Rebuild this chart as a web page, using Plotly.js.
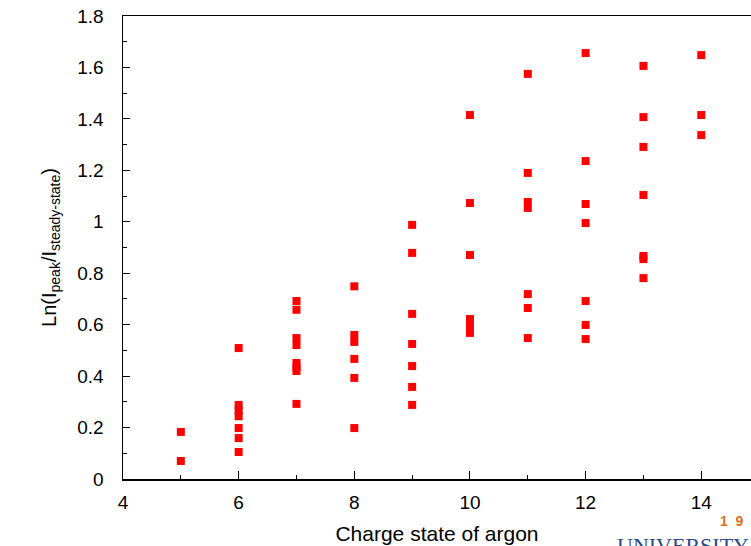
<!DOCTYPE html>
<html>
<head>
<meta charset="utf-8">
<script src="https://cdn.plot.ly/plotly-3.0.1.min.js"></script>
<style>html,body{margin:0;padding:0;background:#fff;}#chart{width:751px;height:546px;}</style>
</head>
<body>
<div id="chart"></div>
<script>
// Charge states and measured Ln(I_peak / I_steady-state) values
const chargeStates = [5, 6, 7, 8, 9, 10, 11, 12, 13, 14];
const q5  = [0.183, 0.070];
const q6  = [0.509, 0.288, 0.266, 0.244, 0.198, 0.159, 0.105];
const q7  = [0.692, 0.658, 0.548, 0.521, 0.451, 0.435, 0.420, 0.292];
const q8  = [0.749, 0.560, 0.533, 0.467, 0.393, 0.198];
const q9  = [0.988, 0.879, 0.642, 0.525, 0.439, 0.358, 0.288];
const q10 = [1.415, 1.073, 0.871, 0.622, 0.595, 0.568];
const q11 = [1.575, 1.190, 1.077, 1.054, 0.719, 0.665, 0.548];
const q12 = [1.656, 1.236, 1.069, 0.995, 0.692, 0.599, 0.544];
const q13 = [1.606, 1.407, 1.291, 1.104, 0.867, 0.855, 0.781];
const q14 = [1.648, 1.415, 1.337];
const xTickVals = [4, 6, 8, 10, 12, 14];
const yTickVals = [0, 0.2, 0.4, 0.6, 0.8, 1, 1.2, 1.4, 1.6, 1.8];

const groups = [q5, q6, q7, q8, q9, q10, q11, q12, q13, q14];
const xs = [], ys = [];
groups.forEach((g, i) => g.forEach(v => { xs.push(chargeStates[i]); ys.push(v); }));

const trace = {
  x: xs, y: ys, type: 'scatter', mode: 'markers',
  marker: {symbol: 'square', size: 8, color: '#ff0000', line: {width: 0}},
  hoverinfo: 'x+y', showlegend: false
};

const font = 'Liberation Sans, Arial, sans-serif';
const layout = {
  width: 751, height: 546,
  margin: {l: 123, r: 0, t: 16, b: 67, pad: 0},
  paper_bgcolor: '#fff', plot_bgcolor: '#fff',
  font: {family: font, color: '#000', size: 19},
  xaxis: {
    range: [4, 14.86], tickvals: xTickVals, ticktext: xTickVals.map(String),
    ticks: 'inside', ticklen: 8, tickwidth: 1, tickcolor: '#000',
    minor: {dtick: 1, tick0: 5, ticks: 'inside', ticklen: 4, tickcolor: '#000', showgrid: false},
    showline: true, linecolor: '#000', linewidth: 1.5, mirror: true,
    showgrid: false, zeroline: false, ticklabelstandoff: 6,
    tickfont: {family: font, size: 19, color: '#000'},
    title: {text: 'Charge state of argon', font: {family: font, size: 21, color: '#000'}, standoff: 14}
  },
  yaxis: {
    range: [0, 1.8], tickvals: yTickVals, ticktext: yTickVals.map(String),
    ticks: 'inside', ticklen: 7, tickwidth: 1, tickcolor: '#000',
    minor: {dtick: 0.1, tick0: 0.1, ticks: 'inside', ticklen: 4, tickcolor: '#000', showgrid: false},
    showline: true, linecolor: '#000', linewidth: 1.5, mirror: false,
    showgrid: false, zeroline: false, ticklabelstandoff: 14,
    tickfont: {family: font, size: 19, color: '#000'},
    title: {text: 'Ln(I<sub>peak</sub>/I<sub>steady-state</sub>)', font: {family: font, size: 20, color: '#000'}, standoff: 15}
  },
  annotations: [
    {xref: 'paper', yref: 'paper', x: 0.948, y: -0.0907, xanchor: 'left', yanchor: 'middle',
     text: '<b>1  9</b>', showarrow: false, font: {family: font, size: 14, color: '#e0701a'}},
    {xref: 'paper', yref: 'paper', x: 0.783, y: -0.112, xanchor: 'left', yanchor: 'top',
     text: 'UNIVERSITY', showarrow: false, font: {family: 'Liberation Serif, serif', size: 22, color: '#2a4a8a'}}
  ]
};

Plotly.newPlot('chart', [trace], layout, {displayModeBar: false, staticPlot: true});
</script>
</body>
</html>
